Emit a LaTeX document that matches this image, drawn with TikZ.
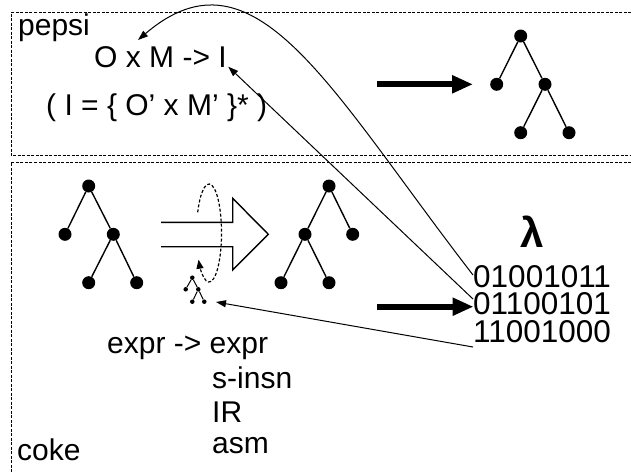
\documentclass[tikz,border=0pt]{standalone}
\usepackage{fontspec}
\setmainfont{Liberation Sans}
\usetikzlibrary{arrows.meta}
\begin{document}
\begin{tikzpicture}[x=1pt,y=-1pt,
  lbl/.style={anchor=base west, inner sep=0pt, font=\fontsize{30}{30}\selectfont},
  bin/.style={anchor=north west, inner sep=0pt, align=left, font=\fontsize{31.5}{27.5}\selectfont},
  bigdot/.style={circle, fill=black, inner sep=0pt, minimum size=13pt},
  smalldot/.style={circle, fill=black, inner sep=0pt, minimum size=4.5pt},
  tedge/.style={line width=1.4pt},
  sedge/.style={line width=1pt},
  boxline/.style={line width=1pt, dash pattern=on 3pt off 1.5pt},
  conn/.style={line width=1pt, -{Triangle[length=10pt,width=7pt]}},
  fatarrow/.style={line width=6pt, -{Triangle[length=21pt,width=17pt]}},
  loopline/.style={line width=1.2pt, dash pattern=on 3pt off 2pt, -{Triangle[length=9pt,width=7pt]}}]
\useasboundingbox (0,0) rectangle (631,472);
% frames
\draw[boxline] (640,12.7) -- (11,12.7) -- (11,155.5) -- (640,155.5);
\draw[boxline] (640,162.3) -- (11,162.3) -- (11,480);
% labels
\node[lbl] (pepsi) at (18,35) {pepsi};
\node[lbl] (oxm) at (94,67) {O x M -> I};
\node[lbl] (iset) at (46,115) {( I = \{ O’ x M’ \}* )};
\node[anchor=base, inner sep=0pt, font=\fontsize{42}{42}\selectfont\bfseries] (lam) at (532,247) {λ};
\node[bin] (bits) at (473,265) {01001011\\01100101\\11001000};
\node[lbl] (e1) at (107,353) {expr -> expr};
\node[lbl] (e2) at (212,388) {s-insn};
\node[lbl] (e3) at (212,422) {IR};
\node[lbl] (e4) at (212,453) {asm};
\node[lbl] (coke) at (17,460) {coke};
% top right tree
\node[bigdot] (ta) at (520.7,36) {};
\node[bigdot] (tb) at (496.7,84.3) {};
\node[bigdot] (tc) at (545,84.3) {};
\node[bigdot] (td) at (520.7,132.7) {};
\node[bigdot] (te) at (569,132.7) {};
\draw[tedge] (tb) -- (ta) -- (tc) -- (td) (tc) -- (te);
% lower left tree
\node[bigdot] (la) at (88.7,186) {};
\node[bigdot] (lb) at (65,234.3) {};
\node[bigdot] (lc) at (113.3,234.3) {};
\node[bigdot] (ld) at (88.7,282.7) {};
\node[bigdot] (le) at (136.7,282.7) {};
\draw[tedge] (lb) -- (la) -- (lc) -- (ld) (lc) -- (le);
% middle tree
\node[bigdot] (ma) at (329,186) {};
\node[bigdot] (mb) at (305,234.3) {};
\node[bigdot] (mc) at (352.7,234.3) {};
\node[bigdot] (md) at (281,282.7) {};
\node[bigdot] (me) at (329,282.7) {};
\draw[tedge] (mc) -- (ma) -- (mb) -- (md) (mb) -- (me);
% small tree
\node[smalldot] (sa) at (192.3,277.7) {};
\node[smalldot] (sb) at (185.7,289.3) {};
\node[smalldot] (sc) at (198.3,289.3) {};
\node[smalldot] (sd) at (192.3,301.7) {};
\node[smalldot] (se) at (204.3,301.7) {};
\draw[sedge] (sb) -- (sa) -- (sc) -- (sd) (sc) -- (se);
% hollow arrow
\draw[tedge] (161,222.3) -- (232.7,222.3) -- (232.7,198.3) -- (268.3,234.3) -- (232.7,270) -- (232.7,246.7) -- (161,246.7);
% dashed loop
\coordinate (loopstart) at (197.7,212.3);
\draw[loopline] (loopstart) arc[start angle=205, end angle=507, x radius=12.5, y radius=49];
% thick arrows
\coordinate (a1s) at (377,84.3);
\coordinate (a1e) at (473,84.3);
\coordinate (a2s) at (377,306.7);
\coordinate (a2e) at (473.5,306.7);
\draw[fatarrow] (a1s) -- (a1e);
\draw[fatarrow] (a2s) -- (a2e);
% connectors
\coordinate (c1) at (473,275);
\coordinate (c2) at (473,299);
\coordinate (c3) at (473,347);
\coordinate (t1) at (138,40);
\coordinate (t2) at (228.3,66.7);
\coordinate (t3) at (216,302);
\draw[conn] (c1) .. controls (330,90) and (255,-60) .. (t1);
\draw[conn] (c2) -- (t2);
\draw[conn] (c3) -- (t3);
\end{tikzpicture}
\end{document}
